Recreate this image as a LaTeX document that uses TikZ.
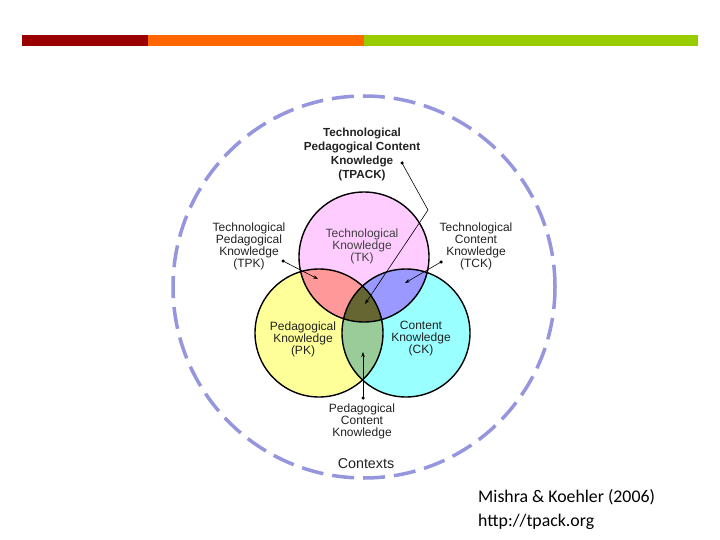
\documentclass[tikz,border=0pt]{standalone}
\usepackage{fontspec}
\setmainfont{Liberation Sans}
\newfontfamily\calib{Carlito}
\usetikzlibrary{arrows.meta}
\definecolor{barred}{HTML}{990000}
\definecolor{barorange}{HTML}{FF6600}
\definecolor{bargreen}{HTML}{99CC00}
\definecolor{ctxline}{RGB}{150,150,222}
\definecolor{tkpink}{HTML}{FFCCFF}
\definecolor{pkyellow}{HTML}{FFFF99}
\definecolor{ckcyan}{HTML}{99FFFF}
\definecolor{tpksalmon}{HTML}{FF9999}
\definecolor{tckblue}{HTML}{9999FF}
\definecolor{pckgreen}{HTML}{99CC99}
\definecolor{tpackolive}{HTML}{666633}
\definecolor{lbl}{HTML}{222222}
\begin{document}
\begin{tikzpicture}[x=1pt,y=-1pt,
  lab/.style={align=center,text=lbl,font=\fontsize{12}{12}\selectfont,inner sep=0pt},
  boldlab/.style={align=center,text=lbl,font=\fontsize{11.7}{14}\selectfont\bfseries,inner sep=0pt},
  ring/.style={draw=black,line width=1.4pt},
  pointer/.style={draw=black,line width=0.6pt,-{Stealth[length=5pt,width=3.5pt]}},
  dotmark/.style={circle,fill=black,inner sep=0pt,minimum size=3.5pt}]
\useasboundingbox (0,0) rectangle (720,540);
\fill[white] (0,0) rectangle (720,540);
% top bar
\fill[barred] (22,35) rectangle (148,46);
\fill[barorange] (148,35) rectangle (364,46);
\fill[bargreen] (364,35) rectangle (698,46);
% contexts circle
\draw[ctxline,line width=3.5pt,dash pattern=on 22pt off 9pt] (364,287) circle (191);
% circles fills
\coordinate (tkc) at (364,257);
\coordinate (pkc) at (319,333);
\coordinate (ckc) at (406,333);
\fill[tkpink] (tkc) circle (65);
\fill[pkyellow] (pkc) circle (64);
\fill[ckcyan] (ckc) circle (64);
\begin{scope}
  \clip (tkc) circle (65);
  \fill[tpksalmon] (pkc) circle (64);
  \fill[tckblue] (ckc) circle (64);
\end{scope}
\begin{scope}
  \clip (pkc) circle (64);
  \fill[pckgreen] (ckc) circle (64);
  \clip (ckc) circle (64);
  \fill[tpackolive] (tkc) circle (65);
\end{scope}
\draw[ring] (tkc) circle (65);
\draw[ring] (pkc) circle (64);
\draw[ring] (ckc) circle (64);
% labels
\node[boldlab] (tpack) at (362,154) {Technological\\Pedagogical Content\\Knowledge\\(TPACK)};
\node[lab,text=black!75] (tk) at (362,246) {Technological\\Knowledge\\(TK)};
\node[lab] (tpk) at (249,246) {Technological\\Pedagogical\\Knowledge\\(TPK)};
\node[lab] (tck) at (476,246) {Technological\\Content\\Knowledge\\(TCK)};
\node[lab] (pk) at (303,339) {Pedagogical\\Knowledge\\(PK)};
\node[lab] (ck) at (421,339) {Content\\Knowledge\\(CK)};
\node[lab] (pck) at (362,421) {Pedagogical\\Content\\Knowledge};
\node[lab,font=\fontsize{14.3}{16}\selectfont] (ctx) at (366,464) {Contexts};
\node[anchor=north west,inner sep=0pt,align=left,font=\calib\fontsize{17.8}{24.5}\selectfont] (cite) at (478,489) {Mishra \& Koehler (2006)\\http://tpack.org};
% pointers
\node[dotmark] (d1) at (402,163) {};
\coordinate (bend1) at (428,210);
\coordinate (t1) at (365,304);
\draw[pointer] (d1.center) -- (bend1) -- (t1);
\node[dotmark] (d2) at (283,261) {};
\coordinate (t2) at (318,279);
\draw[pointer] (d2.center) -- (t2);
\node[dotmark] (d3) at (441,262) {};
\coordinate (t3) at (405,283);
\draw[pointer] (d3.center) -- (t3);
\node[dotmark] (d4) at (363,398) {};
\coordinate (t4) at (363,352);
\draw[pointer] (d4.center) -- (t4);
\end{tikzpicture}
\end{document}
